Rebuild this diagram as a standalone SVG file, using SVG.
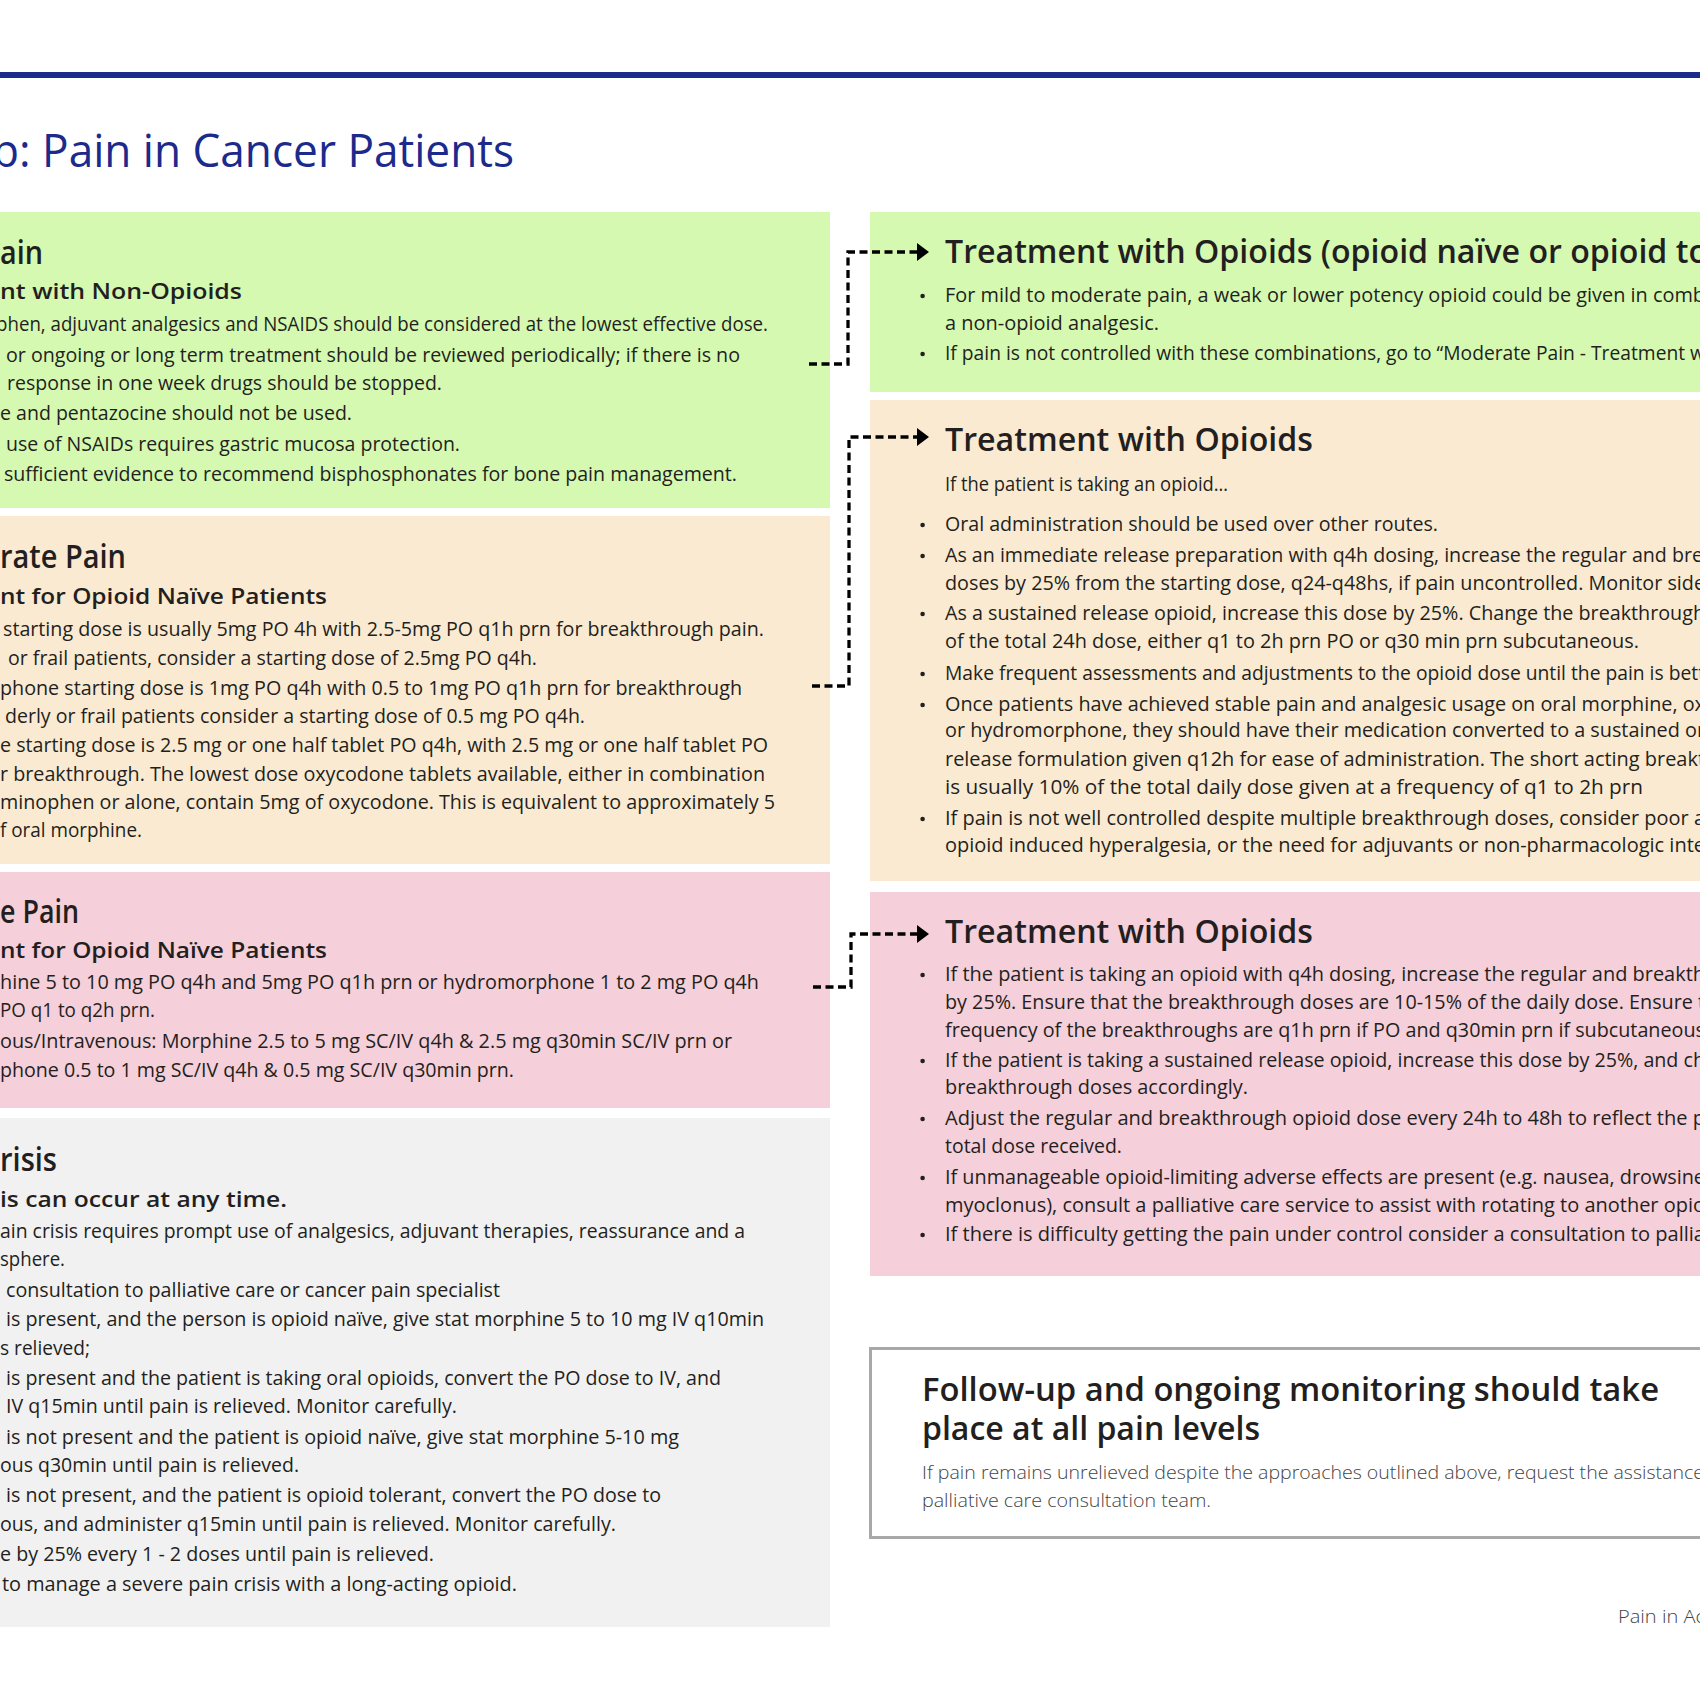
<svg xmlns="http://www.w3.org/2000/svg" width="1700" height="1700" viewBox="0 0 1700 1700">
<defs>
<style>
text{font-family:"Open Sans","Noto Sans","Liberation Sans",sans-serif;fill:#231f20}
.b{font-size:19.5px;font-weight:400}
.h1{font-size:33px;font-weight:600}
.h2{font-size:22px;font-weight:600}
.rh{font-size:32px;font-weight:600}
.lt{font-size:19px;font-weight:300;fill:#444}
.title{font-size:45px;font-weight:400;fill:#1c2a8c}
.green{fill:#d5f9b1}
.beige{fill:#faead1}
.pink{fill:#f5cfd9}
.grey{fill:#f1f1f1}
.dot{fill:#231f20}
.conn{fill:none;stroke:#000;stroke-width:3.3;stroke-dasharray:8 4.5}
</style>
<marker id="arrow" viewBox="0 0 12 18" refX="0" refY="9" markerWidth="12" markerHeight="18" markerUnits="userSpaceOnUse" orient="auto"><path d="M0,0 L12,9 L0,18 z" fill="#000"/></marker>
</defs>
<rect width="1700" height="1700" fill="#fff"/>
<g id="header">
<rect x="0" y="72" width="1700" height="6" fill="#1c2a8c"/>
<text class="title" x="-8" y="167" textLength="522" lengthAdjust="spacingAndGlyphs">p: Pain in Cancer Patients</text>
</g>

<g id="left-mild">
<rect class="green" x="0" y="212" width="830" height="296"/>
<text class="h1" x="0" y="264" textLength="43" lengthAdjust="spacingAndGlyphs">ain</text>
<text class="h2" x="0" y="299" textLength="242" lengthAdjust="spacingAndGlyphs">nt with Non-Opioids</text>
<text class="b" x="-4" y="331" textLength="772" lengthAdjust="spacingAndGlyphs">phen, adjuvant analgesics and NSAIDS should be considered at the lowest effective dose.</text>
<text class="b" x="6" y="362" textLength="734" lengthAdjust="spacingAndGlyphs">or ongoing or long term treatment should be reviewed periodically; if there is no</text>
<text class="b" x="7" y="390" textLength="435" lengthAdjust="spacingAndGlyphs">response in one week drugs should be stopped.</text>
<text class="b" x="0" y="420" textLength="352" lengthAdjust="spacingAndGlyphs">e and pentazocine should not be used.</text>
<text class="b" x="6" y="451" textLength="454" lengthAdjust="spacingAndGlyphs">use of NSAIDs requires gastric mucosa protection.</text>
<text class="b" x="4" y="481" textLength="733" lengthAdjust="spacingAndGlyphs">sufficient evidence to recommend bisphosphonates for bone pain management.</text>
</g>

<g id="left-moderate">
<rect class="beige" x="0" y="516" width="830" height="348"/>
<text class="h1" x="0" y="568" textLength="126" lengthAdjust="spacingAndGlyphs">rate Pain</text>
<text class="h2" x="0" y="604" textLength="327" lengthAdjust="spacingAndGlyphs">nt for Opioid Naïve Patients</text>
<text class="b" x="3" y="636" textLength="761" lengthAdjust="spacingAndGlyphs">starting dose is usually 5mg PO 4h with 2.5-5mg PO q1h prn for breakthrough pain.</text>
<text class="b" x="8" y="665" textLength="529" lengthAdjust="spacingAndGlyphs">or frail patients, consider a starting dose of 2.5mg PO q4h.</text>
<text class="b" x="0" y="695" textLength="742" lengthAdjust="spacingAndGlyphs">phone starting dose is 1mg PO q4h with 0.5 to 1mg PO q1h prn for breakthrough</text>
<text class="b" x="5" y="723" textLength="580" lengthAdjust="spacingAndGlyphs">derly or frail patients consider a starting dose of 0.5 mg PO q4h.</text>
<text class="b" x="0" y="752" textLength="768" lengthAdjust="spacingAndGlyphs">e starting dose is 2.5 mg or one half tablet PO q4h, with 2.5 mg or one half tablet PO</text>
<text class="b" x="0" y="781" textLength="765" lengthAdjust="spacingAndGlyphs">r breakthrough. The lowest dose oxycodone tablets available, either in combination</text>
<text class="b" x="0" y="809" textLength="775" lengthAdjust="spacingAndGlyphs">minophen or alone, contain 5mg of oxycodone. This is equivalent to approximately 5</text>
<text class="b" x="0" y="837" textLength="142" lengthAdjust="spacingAndGlyphs">f oral morphine.</text>
</g>

<g id="left-severe">
<rect class="pink" x="0" y="872" width="830" height="236"/>
<text class="h1" x="0" y="923" textLength="79" lengthAdjust="spacingAndGlyphs">e Pain</text>
<text class="h2" x="0" y="958" textLength="327" lengthAdjust="spacingAndGlyphs">nt for Opioid Naïve Patients</text>
<text class="b" x="0" y="989" textLength="759" lengthAdjust="spacingAndGlyphs">hine 5 to 10 mg PO q4h and 5mg PO q1h prn or hydromorphone 1 to 2 mg PO q4h</text>
<text class="b" x="0" y="1017" textLength="155" lengthAdjust="spacingAndGlyphs">PO q1 to q2h prn.</text>
<text class="b" x="0" y="1048" textLength="732" lengthAdjust="spacingAndGlyphs">ous/Intravenous: Morphine 2.5 to 5 mg SC/IV q4h &amp; 2.5 mg q30min SC/IV prn or</text>
<text class="b" x="0" y="1077" textLength="514" lengthAdjust="spacingAndGlyphs">phone 0.5 to 1 mg SC/IV q4h &amp; 0.5 mg SC/IV q30min prn.</text>
</g>

<g id="left-crisis">
<rect class="grey" x="0" y="1118" width="830" height="509"/>
<text class="h1" x="0" y="1171" textLength="57" lengthAdjust="spacingAndGlyphs">risis</text>
<text class="h2" x="0" y="1207" textLength="287" lengthAdjust="spacingAndGlyphs">is can occur at any time.</text>
<text class="b" x="0" y="1238" textLength="745" lengthAdjust="spacingAndGlyphs">ain crisis requires prompt use of analgesics, adjuvant therapies, reassurance and a</text>
<text class="b" x="0" y="1266" textLength="65" lengthAdjust="spacingAndGlyphs">sphere.</text>
<text class="b" x="6" y="1297" textLength="494" lengthAdjust="spacingAndGlyphs">consultation to palliative care or cancer pain specialist</text>
<text class="b" x="6" y="1326" textLength="758" lengthAdjust="spacingAndGlyphs">is present, and the person is opioid naïve, give stat morphine 5 to 10 mg IV q10min</text>
<text class="b" x="0" y="1355" textLength="90" lengthAdjust="spacingAndGlyphs">s relieved;</text>
<text class="b" x="6" y="1385" textLength="715" lengthAdjust="spacingAndGlyphs">is present and the patient is taking oral opioids, convert the PO dose to IV, and</text>
<text class="b" x="6" y="1413" textLength="451" lengthAdjust="spacingAndGlyphs">IV q15min until pain is relieved. Monitor carefully.</text>
<text class="b" x="6" y="1444" textLength="673" lengthAdjust="spacingAndGlyphs">is not present and the patient is opioid naïve, give stat morphine 5-10 mg</text>
<text class="b" x="0" y="1472" textLength="299" lengthAdjust="spacingAndGlyphs">ous q30min until pain is relieved.</text>
<text class="b" x="6" y="1502" textLength="655" lengthAdjust="spacingAndGlyphs">is not present, and the patient is opioid tolerant, convert the PO dose to</text>
<text class="b" x="0" y="1531" textLength="616" lengthAdjust="spacingAndGlyphs">ous, and administer q15min until pain is relieved. Monitor carefully.</text>
<text class="b" x="0" y="1561" textLength="434" lengthAdjust="spacingAndGlyphs">e by 25% every 1 - 2 doses until pain is relieved.</text>
<text class="b" x="2" y="1591" textLength="515" lengthAdjust="spacingAndGlyphs">to manage a severe pain crisis with a long-acting opioid.</text>
</g>

<g id="right-mild">
<rect class="green" x="870" y="212" width="830" height="180"/>
<text class="rh" x="945" y="263" textLength="763" lengthAdjust="spacingAndGlyphs">Treatment with Opioids (opioid naïve or opioid to</text>
<circle class="dot" cx="922.6" cy="296" r="2.3"/>
<text class="b" x="945" y="302" textLength="760" lengthAdjust="spacingAndGlyphs">For mild to moderate pain, a weak or lower potency opioid could be given in comb</text>
<text class="b" x="945" y="330" textLength="214" lengthAdjust="spacingAndGlyphs">a non-opioid analgesic.</text>
<circle class="dot" cx="922.6" cy="354" r="2.3"/>
<text class="b" x="945" y="360" textLength="760" lengthAdjust="spacingAndGlyphs">If pain is not controlled with these combinations, go to “Moderate Pain - Treatment w</text>
</g>

<g id="right-moderate">
<rect class="beige" x="870" y="400" width="830" height="481"/>
<text class="rh" x="945" y="451" textLength="368" lengthAdjust="spacingAndGlyphs">Treatment with Opioids</text>
<text class="b" x="945" y="491" textLength="283" lengthAdjust="spacingAndGlyphs">If the patient is taking an opioid…</text>
<circle class="dot" cx="922.6" cy="525" r="2.3"/>
<text class="b" x="945" y="531" textLength="493" lengthAdjust="spacingAndGlyphs">Oral administration should be used over other routes.</text>
<circle class="dot" cx="922.6" cy="556" r="2.3"/>
<text class="b" x="945" y="562" textLength="758" lengthAdjust="spacingAndGlyphs">As an immediate release preparation with q4h dosing, increase the regular and bre</text>
<text class="b" x="945" y="590" textLength="760" lengthAdjust="spacingAndGlyphs">doses by 25% from the starting dose, q24-q48hs, if pain uncontrolled. Monitor side</text>
<circle class="dot" cx="922.6" cy="614" r="2.3"/>
<text class="b" x="945" y="620" textLength="760" lengthAdjust="spacingAndGlyphs">As a sustained release opioid, increase this dose by 25%. Change the breakthrough</text>
<text class="b" x="945" y="648" textLength="694" lengthAdjust="spacingAndGlyphs">of the total 24h dose, either q1 to 2h prn PO or q30 min prn subcutaneous.</text>
<circle class="dot" cx="922.6" cy="674" r="2.3"/>
<text class="b" x="945" y="680" textLength="760" lengthAdjust="spacingAndGlyphs">Make frequent assessments and adjustments to the opioid dose until the pain is bett</text>
<circle class="dot" cx="922.6" cy="705" r="2.3"/>
<text class="b" x="945" y="711" textLength="760" lengthAdjust="spacingAndGlyphs">Once patients have achieved stable pain and analgesic usage on oral morphine, ox</text>
<text class="b" x="945" y="737" textLength="760" lengthAdjust="spacingAndGlyphs">or hydromorphone, they should have their medication converted to a sustained or</text>
<text class="b" x="945" y="766" textLength="760" lengthAdjust="spacingAndGlyphs">release formulation given q12h for ease of administration. The short acting breakt</text>
<text class="b" x="945" y="794" textLength="698" lengthAdjust="spacingAndGlyphs">is usually 10% of the total daily dose given at a frequency of q1 to 2h prn</text>
<circle class="dot" cx="922.6" cy="819" r="2.3"/>
<text class="b" x="945" y="825" textLength="760" lengthAdjust="spacingAndGlyphs">If pain is not well controlled despite multiple breakthrough doses, consider poor a</text>
<text class="b" x="945" y="852" textLength="760" lengthAdjust="spacingAndGlyphs">opioid induced hyperalgesia, or the need for adjuvants or non-pharmacologic inte</text>
</g>

<g id="right-severe">
<rect class="pink" x="870" y="892" width="830" height="384"/>
<text class="rh" x="945" y="943" textLength="368" lengthAdjust="spacingAndGlyphs">Treatment with Opioids</text>
<circle class="dot" cx="922.6" cy="975" r="2.3"/>
<text class="b" x="945" y="981" textLength="760" lengthAdjust="spacingAndGlyphs">If the patient is taking an opioid with q4h dosing, increase the regular and breakth</text>
<text class="b" x="945" y="1009" textLength="760" lengthAdjust="spacingAndGlyphs">by 25%. Ensure that the breakthrough doses are 10-15% of the daily dose. Ensure t</text>
<text class="b" x="945" y="1037" textLength="760" lengthAdjust="spacingAndGlyphs">frequency of the breakthroughs are q1h prn if PO and q30min prn if subcutaneous</text>
<circle class="dot" cx="922.6" cy="1061" r="2.3"/>
<text class="b" x="945" y="1067" textLength="760" lengthAdjust="spacingAndGlyphs">If the patient is taking a sustained release opioid, increase this dose by 25%, and ch</text>
<text class="b" x="945" y="1094" textLength="303" lengthAdjust="spacingAndGlyphs">breakthrough doses accordingly.</text>
<circle class="dot" cx="922.6" cy="1119" r="2.3"/>
<text class="b" x="945" y="1125" textLength="760" lengthAdjust="spacingAndGlyphs">Adjust the regular and breakthrough opioid dose every 24h to 48h to reflect the p</text>
<text class="b" x="945" y="1153" textLength="177" lengthAdjust="spacingAndGlyphs">total dose received.</text>
<circle class="dot" cx="922.6" cy="1178" r="2.3"/>
<text class="b" x="945" y="1184" textLength="760" lengthAdjust="spacingAndGlyphs">If unmanageable opioid-limiting adverse effects are present (e.g. nausea, drowsine</text>
<text class="b" x="945" y="1212" textLength="760" lengthAdjust="spacingAndGlyphs">myoclonus), consult a palliative care service to assist with rotating to another opio</text>
<circle class="dot" cx="922.6" cy="1235" r="2.3"/>
<text class="b" x="945" y="1241" textLength="760" lengthAdjust="spacingAndGlyphs">If there is difficulty getting the pain under control consider a consultation to pallia</text>
</g>

<g id="followup">
<rect x="870.5" y="1348.5" width="840" height="189" fill="#fff" stroke="#a8a8a8" stroke-width="3"/>
<text class="rh" x="922" y="1401" textLength="737" lengthAdjust="spacingAndGlyphs">Follow-up and ongoing monitoring should take</text>
<text class="rh" x="922" y="1440" textLength="338" lengthAdjust="spacingAndGlyphs">place at all pain levels</text>
<text class="lt" x="922" y="1479" textLength="782" lengthAdjust="spacingAndGlyphs">If pain remains unrelieved despite the approaches outlined above, request the assistance</text>
<text class="lt" x="922" y="1507" textLength="289" lengthAdjust="spacingAndGlyphs">palliative care consultation team.</text>
</g>

<g id="footer">
<text class="lt" x="1618" y="1623" textLength="87" lengthAdjust="spacingAndGlyphs">Pain in Ac</text>
</g>

<g id="connectors">
<path class="conn" d="M809,364 H848 V252 H917" marker-end="url(#arrow)"/>
<path class="conn" d="M812,686 H849 V437 H917" marker-end="url(#arrow)"/>
<path class="conn" d="M813,987 H851 V934 H917" marker-end="url(#arrow)"/>
</g>
</svg>
